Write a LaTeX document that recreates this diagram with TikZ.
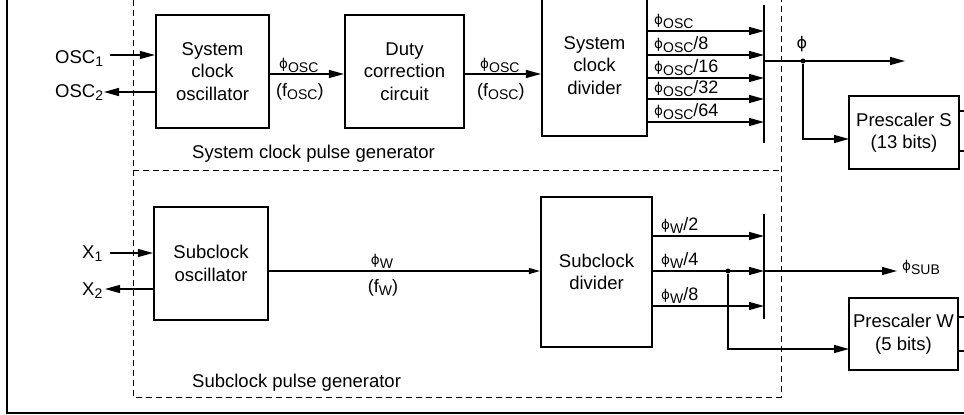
\documentclass[tikz,border=0pt]{standalone}
\usepackage{fontspec}
\setmainfont{Liberation Sans}
\newfontfamily\phifont{DejaVu Sans}
\usetikzlibrary{arrows.meta}

% straight phi and lowered subscripts
\newcommand\ph{\raisebox{0.5pt}{\phifont\fontsize{13.5}{13.5}\selectfont ϕ}}
\newcommand\bigph{{\phifont\fontsize{16}{16}\selectfont ϕ}}
\newcommand\sbs[1]{\raisebox{-3pt}{\fontsize{14}{14}\selectfont #1}}

\tikzset{
  blk/.style={draw, line width=2.2pt, inner sep=2pt, align=center,
              font=\fontsize{18.5}{22.5}\selectfont},
  lbl/.style={inner sep=0pt, font=\fontsize{18}{18}\selectfont},
  pinlbl/.style={inner sep=0pt, font=\fontsize{18.5}{18.5}\selectfont},
  grpcaption/.style={inner sep=0pt, font=\fontsize{18.5}{18.5}\selectfont},
  wire/.style={line width=1.2pt},
  arr/.style={wire, -{Triangle[length=15pt,width=8pt]}},
  sarr/.style={wire, -{Triangle[length=11pt,width=6pt]}},
  grp/.style={line width=0.9pt, dash pattern=on 6pt off 4pt},
  selbar/.style={line width=1.4pt},
  jdot/.style={circle, fill, inner sep=0pt, minimum size=5pt},
}

\begin{document}
\begin{tikzpicture}[x=1pt, y=-1pt]
\useasboundingbox (0,0) rectangle (964,415);
\clip (0,0) rectangle (964,415);

% outer frame
\draw[line width=2.5pt] (7,-20) -- (7,413) -- (980,413);

% pulse generator groups
\draw[grp] (133,-20) -- (133,397) -- (781,397) -- (781,-20);
\draw[grp] (133,170) -- (781,170);
\node[grpcaption, anchor=base west] (capS) at (192,158) {System clock pulse generator};
\node[grpcaption, anchor=base west] (capW) at (192,387) {Subclock pulse generator};

% ---------------- system clock ----------------
\node[blk, minimum width=113pt, minimum height=113pt] (sco) at (212.5,71.5) {System\\clock\\oscillator};
\node[blk, minimum width=119pt, minimum height=113pt] (dcc) at (404.5,71.5) {Duty\\correction\\circuit};
\node[blk, minimum width=105pt, minimum height=141pt] (scd) at (594.5,65.5) {System\\clock\\divider};
\node[blk, minimum width=110pt, minimum height=73pt] (pss) at (904,132.5) {Prescaler S\\(13 bits)};

\node[pinlbl, anchor=base west] (osc1) at (55,63) {OSC\sbs{1}};
\node[pinlbl, anchor=base west] (osc2) at (55,97) {OSC\sbs{2}};
\coordinate (o1s) at (110,55);
\coordinate (o2e) at (104,92);
\draw[arr] (o1s) -- (o1s -| sco.west);
\draw[arr] (o2e -| sco.west) -- (o2e);

\draw[arr] (sco.east |- 0,74) -- (dcc.west |- 0,74);
\node[lbl, anchor=base west] (fa1) at (279,69) {\ph\sbs{OSC}};
\node[lbl, anchor=base west] (fa2) at (276,96) {(f\sbs{OSC})};

\draw[arr] (dcc.east |- 0,74) -- (scd.west |- 0,74);
\node[lbl, anchor=base west] (fb1) at (480,69) {\ph\sbs{OSC}};
\node[lbl, anchor=base west] (fb2) at (477,96) {(f\sbs{OSC})};

% clock select
\coordinate (selS1) at (764,5);
\coordinate (selS2) at (764,143);
\draw[selbar] (selS1) -- (selS2);
\foreach \yy in {31,55,78,99,122}
  \draw[arr] (scd.east |- 0,\yy) -- (selS1 |- 0,\yy);
\node[lbl, anchor=base west] (d1) at (654,25) {\ph\sbs{OSC}};
\node[lbl, anchor=base west] (d2) at (654,49) {\ph\sbs{OSC}/8};
\node[lbl, anchor=base west] (d3) at (654,72) {\ph\sbs{OSC}/16};
\node[lbl, anchor=base west] (d4) at (654,93) {\ph\sbs{OSC}/32};
\node[lbl, anchor=base west] (d5) at (654,116) {\ph\sbs{OSC}/64};

\coordinate (phiOut) at (905,61);
\node[jdot] (dotS) at (803,61) {};
\draw[arr] (selS1 |- phiOut) -- (phiOut);
\node[lbl, anchor=base] (phiL) at (802,48) {\bigph};
\coordinate (pinS) at (849,139);
\draw[arr] (dotS) |- (pinS);
\draw[wire] (pss.east |- 0,111) -- ++(20,0);
\draw[wire] (pss.east |- 0,151) -- ++(20,0);

% ---------------- subclock ----------------
\node[blk, minimum width=114pt, minimum height=113pt] (sbo) at (211,263.5) {Subclock\\oscillator};
\node[blk, minimum width=111pt, minimum height=150pt] (sbd) at (596.5,272) {Subclock\\divider};
\node[blk, minimum width=109pt, minimum height=72pt] (psw) at (903.5,334) {Prescaler W\\(5 bits)};

\node[pinlbl, anchor=base west] (x1) at (82,258) {X\sbs{1}};
\node[pinlbl, anchor=base west] (x2) at (82,295) {X\sbs{2}};
\coordinate (x1s) at (110,253);
\coordinate (x2e) at (105,289);
\draw[arr] (x1s) -- (x1s -| sbo.west);
\draw[arr] (x2e -| sbo.west) -- (x2e);

\draw[sarr] (sbo.east |- 0,271) -- (sbd.west |- 0,271);
\node[lbl, anchor=base] (fw1) at (382,265) {\ph\sbs{W}};
\node[lbl, anchor=base] (fw2) at (383,292) {(f\sbs{W})};

\coordinate (selW1) at (764,214);
\coordinate (selW2) at (764,319);
\draw[selbar] (selW1) -- (selW2);
\foreach \yy in {236,271,306}
  \draw[arr] (sbd.east |- 0,\yy) -- (selW1 |- 0,\yy);
\node[lbl, anchor=base west] (w1) at (661,230) {\ph\sbs{W}/2};
\node[lbl, anchor=base west] (w2) at (661,265) {\ph\sbs{W}/4};
\node[lbl, anchor=base west] (w3) at (661,300) {\ph\sbs{W}/8};

\coordinate (subOut) at (897,271);
\draw[arr] (selW1 |- subOut) -- (subOut);
\node[lbl, anchor=base west] (subL) at (902,271) {\ph\sbs{SUB}};
\node[jdot] (dotW) at (728,271) {};
\coordinate (pinW) at (849,349);
\draw[arr] (dotW) |- (pinW);
\draw[wire] (psw.east |- 0,317) -- ++(20,0);
\draw[wire] (psw.east |- 0,351) -- ++(20,0);
\end{tikzpicture}
\end{document}
